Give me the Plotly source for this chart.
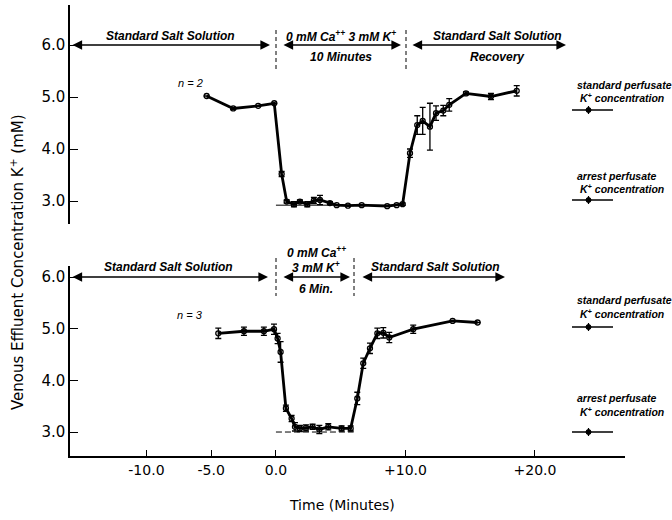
import plotly.graph_objects as go

# ---------------- data ----------------
top_t = [-5.35, -3.30, -1.37, -0.13, 0.44, 0.83, 1.39, 1.85, 2.42, 2.93, 3.40, 4.17, 4.69, 5.56,
         6.62, 8.59, 9.32, 9.78, 10.35, 10.91, 11.33, 11.89, 12.36, 12.92, 13.38, 14.67, 16.6, 18.59]
top_k = [5.02, 4.78, 4.83, 4.88, 3.52, 2.99, 2.94, 2.99, 2.94, 3.01, 3.02, 2.96, 2.92, 2.91,
         2.92, 2.90, 2.92, 2.94, 3.92, 4.46, 4.54, 4.43, 4.69, 4.74, 4.85, 5.07, 5.01, 5.12]
top_err = [0, 0.02, 0, 0, 0.05, 0.03, 0.05, 0.03, 0.05, 0.06, 0.09, 0.03, 0, 0,
           0, 0, 0, 0.02, 0.08, 0.18, 0.26, 0.45, 0.14, 0.10, 0.12, 0.03, 0.06, 0.10]

bot_t = [-4.45, -2.47, -0.93, -0.15, 0.13, 0.36, 0.77, 1.21, 1.47, 1.85, 2.32, 2.83, 3.35, 4.04,
         5.07, 5.77, 6.28, 6.74, 7.26, 7.83, 8.29, 8.75, 10.6, 13.64, 15.57]
bot_k = [4.91, 4.95, 4.95, 4.99, 4.81, 4.55, 3.46, 3.26, 3.10, 3.07, 3.08, 3.10, 3.05, 3.10,
         3.07, 3.07, 3.65, 4.33, 4.62, 4.91, 4.92, 4.83, 4.99, 5.15, 5.12]
bot_err = [0.10, 0.08, 0.08, 0.10, 0.10, 0.20, 0.06, 0.06, 0.08, 0.06, 0.06, 0.05, 0.08, 0.06,
           0.05, 0.05, 0.12, 0.10, 0.10, 0.10, 0.10, 0.10, 0.08, 0, 0]

arrest_top_t = [0, 10]
arrest_top_k = [2.92, 2.92]
arrest_bot_t = [0, 6]
arrest_bot_k = [3.0, 3.0]

x_tickvals = [-10, -5, 0, 10, 20]
x_ticktext = ["-10.0", "-5.0", "0.0", "+10.0", "+20.0"]
y_tickvals = [3, 4, 5, 6]
y_ticktext = ["3.0", "4.0", "5.0", "6.0"]

# ---------------- geometry helpers (pixel -> paper) ----------------
W, H = 672, 520
L, R, T, B = 70, 625, 5, 456


def px(x):
    return (x - L) / (R - L)


def py(y):
    return (B - y) / (B - T)


FONT = "DejaVu Sans"
IFONT = "Liberation Sans"
ital = dict(family=IFONT, size=12, color="black", style="italic", weight="bold")
ital_s = dict(family=IFONT, size=10.5, color="black", style="italic", weight="bold")

fig = go.Figure()

line_style = dict(color="black", width=2.8)
marker_style = dict(symbol="circle-open", size=5, color="black", line=dict(width=1.3, color="black"))

fig.add_trace(go.Scatter(x=arrest_top_t, y=arrest_top_k, mode="lines", xaxis="x2", yaxis="y",
                         line=dict(color="black", width=1), showlegend=False))
fig.add_trace(go.Scatter(x=top_t, y=top_k, mode="lines+markers", xaxis="x2", yaxis="y",
                         line=line_style, marker=marker_style,
                         error_y=dict(type="data", array=top_err, color="black", thickness=1.3, width=3),
                         showlegend=False))
fig.add_trace(go.Scatter(x=arrest_bot_t, y=arrest_bot_k, mode="lines", xaxis="x", yaxis="y2",
                         line=dict(color="black", width=1, dash="6px,3px"), showlegend=False))
fig.add_trace(go.Scatter(x=bot_t, y=bot_k, mode="lines+markers", xaxis="x", yaxis="y2",
                         line=line_style, marker=marker_style,
                         error_y=dict(type="data", array=bot_err, color="black", thickness=1.3, width=3),
                         showlegend=False))

xr = [-15.9, 26.95]
yaxis_common = dict(showline=True, linecolor="black", linewidth=1.5, ticks="inside", ticklen=8,
                    tickcolor="black", tickwidth=1, tickvals=y_tickvals, ticktext=y_ticktext,
                    showgrid=False, zeroline=False,
                    tickfont=dict(family=FONT, size=15, color="black"))

fig.update_layout(
    width=W, height=H,
    margin=dict(l=L, r=W - R, t=T, b=H - B),
    paper_bgcolor="white", plot_bgcolor="white",
    xaxis=dict(range=xr, anchor="y2", showline=True, linecolor="black", linewidth=1.5,
               ticks="inside", ticklen=6, tickcolor="black", tickwidth=1,
               tickvals=x_tickvals, ticktext=x_ticktext, showgrid=False, zeroline=False,
               tickfont=dict(family=FONT, size=14, color="black")),
    xaxis2=dict(range=xr, anchor="y", visible=False, matches="x"),
    yaxis=dict(domain=[py(224), 1], range=[2.558, 6.77], **yaxis_common),
    yaxis2=dict(domain=[0, py(266)], range=[2.536, 6.213], **yaxis_common),
    showlegend=False,
)

ann = []
shapes = []


def text(x, y, s, font=ital, xanchor="center"):
    ann.append(dict(x=px(x), y=py(y), xref="paper", yref="paper", text=s, showarrow=False,
                    font=font, xanchor=xanchor, yanchor="middle"))


def harrow(x0, x1, y):
    ann.append(dict(x=px(x1), y=py(y), ax=x0 - x1, ay=0, xref="paper", yref="paper",
                    axref="pixel", ayref="pixel", text="", showarrow=True, arrowside="end+start",
                    arrowhead=2, arrowsize=1.2, arrowwidth=1.6, arrowcolor="black"))


def vdash(x, y0, y1):
    shapes.append(dict(type="line", xref="paper", yref="paper", x0=px(x), x1=px(x), y0=py(y0), y1=py(y1),
                       line=dict(color="black", width=1, dash="4px,3px")))


def hline(x0, x1, y):
    shapes.append(dict(type="line", xref="paper", yref="paper", x0=px(x0), x1=px(x1), y0=py(y), y1=py(y),
                       line=dict(color="black", width=1.6)))


# --- top panel header ---
harrow(71, 270, 45)
text(170, 36, "Standard Salt Solution")
vdash(276, 30, 70)
vdash(406, 30, 70)
harrow(282, 401, 45)
text(341, 36, "0 mM Ca<sup>++</sup> 3 mM K<sup>+</sup>")
text(341, 57, "10 Minutes")
harrow(411, 566, 45)
text(497, 36, "Standard Salt Solution")
text(497, 57, "Recovery")
text(190, 83, "n = 2", font=dict(family=IFONT, size=11, color="black", style="italic"))

# --- bottom panel header ---
harrow(71, 268, 277)
text(168, 267, "Standard Salt Solution")
vdash(276, 258, 296)
vdash(354, 258, 296)
text(316, 252, "0 mM Ca<sup>++</sup>")
text(316, 267, "3 mM K<sup>+</sup>")
harrow(282, 350, 277)
text(316, 289, "6 Min.")
harrow(361, 505, 277)
text(435, 267, "Standard Salt Solution")
text(190, 315, "n = 3", font=dict(family=IFONT, size=11, color="black", style="italic"))

# --- right-side key labels ---
for (y1, y2, yl, lab) in [(85, 97, 110, "standard perfusate"), (176, 188, 200, "arrest perfusate"),
                          (300, 313, 327, "standard perfusate"), (398, 411, 432, "arrest perfusate")]:
    text(575, y1, lab, font=ital_s, xanchor="left")
    text(578, y2, "K<sup>+</sup> concentration", font=ital_s, xanchor="left")
    hline(572, 613, yl)
    shapes.append(dict(type="circle", xref="paper", yref="paper", x0=px(586), x1=px(591),
                       y0=py(yl + 2.5), y1=py(yl - 2.5), fillcolor="black", line=dict(color="black", width=1)))
    shapes.append(dict(type="line", xref="paper", yref="paper", x0=px(588.5), x1=px(588.5),
                       y0=py(yl + 4), y1=py(yl - 4), line=dict(color="black", width=1.2)))

# --- axis titles ---
ann.append(dict(x=px(17), y=py(262), xref="paper", yref="paper", showarrow=False, textangle=-90,
                xanchor="center", yanchor="middle",
                text="Venous Effluent Concentration K<sup>+</sup> (mM)",
                font=dict(family=FONT, size=15, color="black")))
text(342, 505, "Time (Minutes)", font=dict(family=FONT, size=14, color="black"))

fig.update_layout(annotations=ann, shapes=shapes)
fig.write_html("out.html", config={"displayModeBar": False},
               post_script="document.body.style.margin='0';document.body.style.padding='0';")
